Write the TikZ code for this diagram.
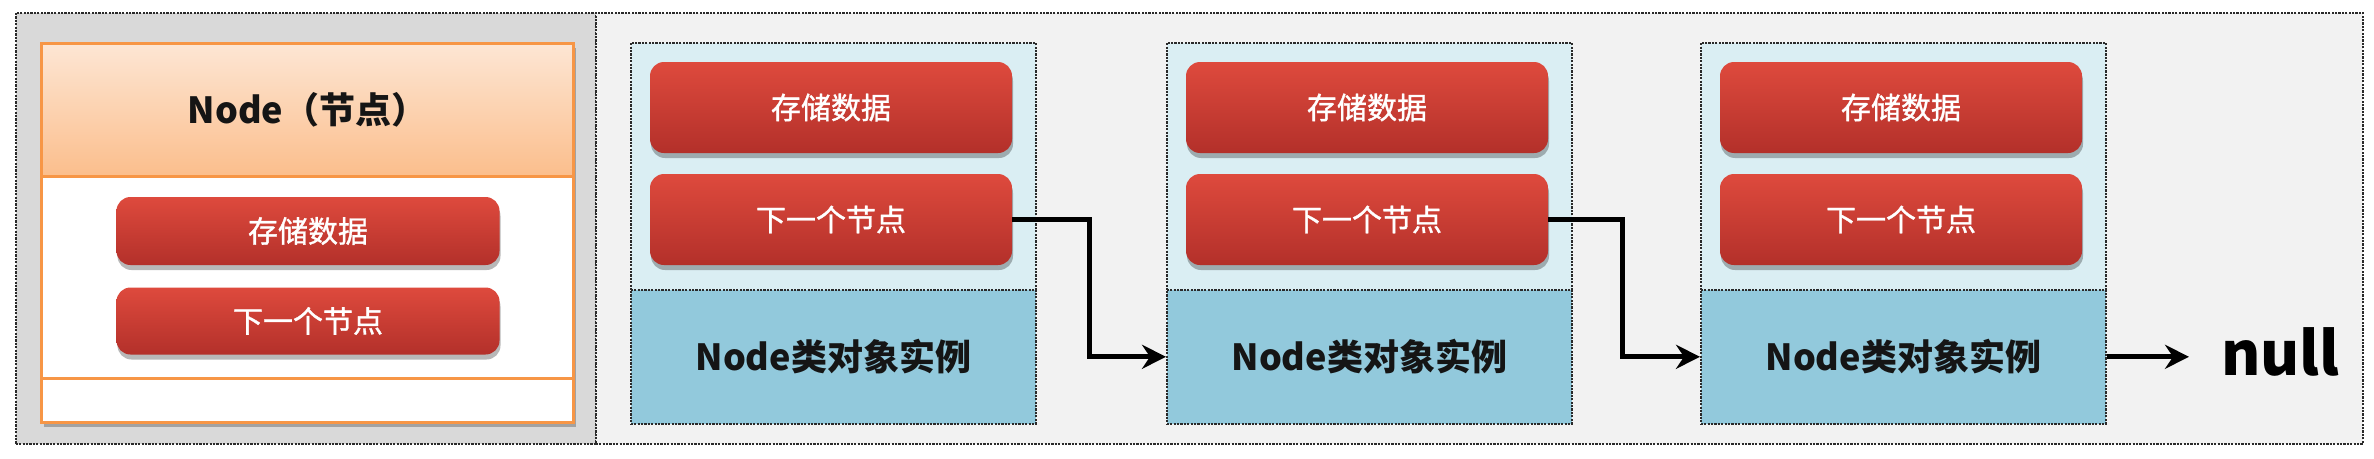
\documentclass[tikz,border=0pt]{standalone}
\usepackage{fontspec}
\setmainfont{Noto Sans CJK SC}
\newfontfamily\redfont[FakeBold=1.2]{Noto Sans CJK SC}
\usetikzlibrary{shadows,arrows.meta,calc}
\definecolor{panelgray}{HTML}{D9D9D9}
\definecolor{panellight}{HTML}{F2F2F2}
\definecolor{dashcol}{HTML}{2A2A2A}
\definecolor{orangeline}{HTML}{F79646}
\definecolor{hdtop}{HTML}{FDE6D4}
\definecolor{hdbot}{HTML}{FBBE8C}
\definecolor{redtop}{HTML}{DE4A3D}
\definecolor{redbot}{HTML}{B3302A}
\definecolor{lightblue}{HTML}{DAEEF3}
\definecolor{midblue}{HTML}{92C9DC}
\definecolor{txtdark}{HTML}{151515}
\begin{document}
\begin{tikzpicture}[x=1pt,y=-1pt,
  dashedframe/.style={draw=dashcol, line width=1.6pt, dash pattern=on 2.2pt off 1.2pt},
  redbtn/.style={rounded corners=14pt, top color=redtop, bottom color=redbot, draw=none,
    text=white, font=\redfont\fontsize{30}{30}\selectfont, inner sep=0pt,
    drop shadow={shadow xshift=1pt, shadow yshift=-5pt, opacity=.28, fill=black}},
  topbox/.style={dashedframe, fill=lightblue, minimum width=405pt, minimum height=247pt, inner sep=0pt, anchor=north west},
  botbox/.style={dashedframe, fill=midblue, minimum width=405pt, minimum height=134pt, inner sep=0pt, anchor=north west,
    text=txtdark, font=\bfseries\fontsize{36}{36}\selectfont},
  conn/.style={line width=5pt, -{Stealth[length=24pt,width=24pt,inset=8pt]}}
]
\useasboundingbox (0,0) rectangle (2374,458);
\fill[white] (0,0) rectangle (2374,458);
% panels
\node[dashedframe, fill=panelgray, minimum width=580pt, minimum height=431pt, inner sep=0pt, anchor=north west] (pl) at (15,12) {};
\node[dashedframe, fill=panellight, minimum width=1767pt, minimum height=431pt, inner sep=0pt, anchor=north west] (pr) at (595,12) {};
% left: class Node
\node[draw=orangeline, line width=3pt, fill=white, minimum width=532pt, minimum height=379pt, inner sep=0pt, anchor=north west,
  drop shadow={shadow xshift=2pt, shadow yshift=-4pt, opacity=.25, fill=black}] (ob) at (40,42) {};
\node[draw=orangeline, line width=3pt, top color=hdtop, bottom color=hdbot, minimum width=532pt, minimum height=133pt,
  inner sep=0pt, anchor=north west, text=txtdark, font=\bfseries\fontsize{36}{36}\selectfont] (hd) at (40,42) {Node（节点）};
\node[draw=orangeline, line width=3pt, fill=white, minimum width=532pt, minimum height=44pt, inner sep=0pt, anchor=south west] (bs) at (ob.south west) {};
\node[redbtn, minimum width=383pt, minimum height=68pt] (lr1) at (308,231) {存储数据};
\node[redbtn, minimum width=383pt, minimum height=67pt] (lr2) at (308,321) {下一个节点};
% node instances
\foreach \i/\X in {1/630,2/1166,3/1700}{
  \node[topbox] (t\i) at (\X,42) {};
  \node[botbox] (b\i) at (\X,289) {Node类对象实例};
  \node[redbtn, minimum width=362pt, minimum height=91pt] (r\i a) at (\X+201,107.5) {存储数据};
  \node[redbtn, minimum width=362pt, minimum height=91pt] (r\i b) at (\X+201,219.5) {下一个节点};
}
\node[inner sep=0pt, anchor=west, text=black, font=\bfseries\fontsize{60}{60}\selectfont] (nl) at (2221,352) {null};
\coordinate (ntip) at ($(b3.east -| nl.west)+(-32,0)$);
% connectors
\draw[conn] (r1b.east) -- ++(77,0) |- (b2.west);
\draw[conn] (r2b.east) -- ++(74,0) |- (b3.west);
\draw[conn] (b3.east) -- (ntip);
\end{tikzpicture}
\end{document}
